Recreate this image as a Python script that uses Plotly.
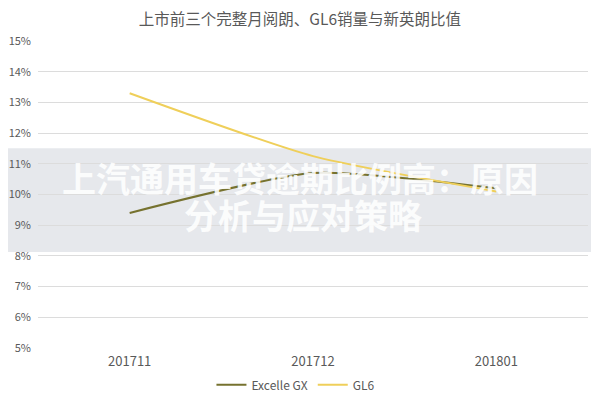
import plotly.graph_objects as go

# 数据
months = ['201711', '201712', '201801']
excelle_gx = [0.094, 0.107, 0.102]
gl6 = [0.133, 0.1125, 0.101]

fig = go.Figure()

fig.add_trace(go.Scatter(
    x=months, y=excelle_gx, name='Excelle GX', mode='lines',
    line=dict(color='#76722f', width=2, shape='spline', smoothing=0.6)
))
fig.add_trace(go.Scatter(
    x=months, y=gl6, name='GL6', mode='lines',
    line=dict(color='#efcf5a', width=2, shape='spline', smoothing=0.6)
))

# 水印条带（画在网格线和曲线下面）
fig.add_shape(
    type='rect', xref='paper', yref='paper',
    x0=-0.2, x1=1.2, y0=0.313, y1=0.651,
    fillcolor='#e6e8ec', line=dict(width=0), layer='below'
)
wm_font = dict(family='Noto Sans CJK SC', size=34, color='rgba(255,255,255,0.88)')
fig.add_annotation(
    xref='paper', yref='paper', x=0.476, y=0.555,
    text='<b>上汽通用车贷逾期比例高：原因</b>', showarrow=False, font=wm_font
)
fig.add_annotation(
    xref='paper', yref='paper', x=0.481, y=0.435,
    text='<b>分析与应对策略</b>', showarrow=False, font=wm_font
)

# 页面有 8px 的默认边距，整体尺寸相应缩小
fig.update_layout(
    width=591, height=392,
    margin=dict(l=30, r=11, t=33, b=52, autoexpand=False),
    paper_bgcolor='white', plot_bgcolor='rgba(0,0,0,0)',
    font=dict(family='Noto Sans CJK SC', color='#595959', size=11),
    title=dict(text='上市前三个完整月阅朗、GL6销量与新英朗比值',
               x=0.494, xanchor='center', y=0.985, yanchor='top',
               font=dict(size=15.5, color='#595959')),
    xaxis=dict(type='category', range=[-0.5, 2.5], showgrid=False,
               showline=False, ticks='', tickfont=dict(size=13),
               ticklabelstandoff=4),
    yaxis=dict(range=[0.05, 0.15], dtick=0.01, tickformat='.0%',
               gridcolor='#dcdcdc', zeroline=False, showline=False,
               ticks='', tickfont=dict(size=11), ticklabelstandoff=6),
    legend=dict(orientation='h', x=0.469, xanchor='center', y=-0.12, yanchor='middle',
                font=dict(size=12), itemwidth=30)
)

fig.write_html('out.html')
